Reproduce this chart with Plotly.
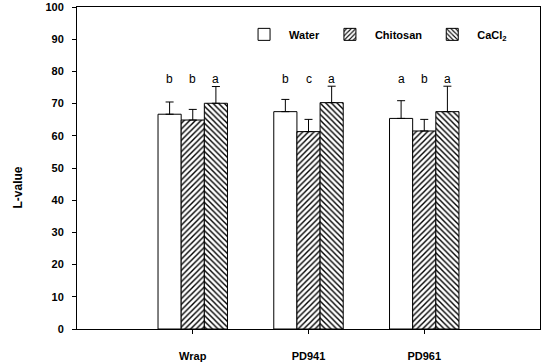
import plotly.graph_objects as go

categories = ["Wrap", "PD941", "PD961"]
series_names = ["Water", "Chitosan", "CaCl<sub>2</sub>"]
water = [66.7, 67.5, 65.4]
water_err = [3.8, 3.8, 5.5]
chitosan = [64.9, 61.3, 61.5]
chitosan_err = [3.3, 3.8, 3.6]
cacl2 = [70.1, 70.3, 67.5]
cacl2_err = [5.2, 5.1, 7.9]
letters_water = ["b", "b", "a"]
letters_chitosan = ["b", "c", "b"]
letters_cacl2 = ["a", "a", "a"]
y_ticks = list(range(0, 101, 10))

FONT = "Liberation Sans, Arial, sans-serif"

fig = go.Figure()

series = [
    (series_names[0], water, water_err, ""),
    (series_names[1], chitosan, chitosan_err, "/"),
    (series_names[2], cacl2, cacl2_err, "\\"),
]
for name, vals, errs, shape in series:
    marker = dict(color="white", line=dict(color="black", width=1))
    if shape:
        marker["pattern"] = dict(shape=shape, fgcolor="black", bgcolor="white",
                                 size=4, solidity=0.35, fillmode="replace")
    fig.add_trace(go.Bar(
        x=categories, y=vals, name="<b>%s</b>" % name, marker=marker,
        error_y=dict(type="data", array=errs, arrayminus=[0] * len(errs),
                     symmetric=False, color="black", thickness=1, width=4),
    ))

# significance letters
offsets = [-0.2, 0.0, 0.2]
for k, letters in enumerate([letters_water, letters_chitosan, letters_cacl2]):
    for i, letter in enumerate(letters):
        fig.add_annotation(x=i + offsets[k], y=77.5, xref="x", yref="y",
                           text=letter, showarrow=False,
                           font=dict(family=FONT, size=12, color="black"))

fig.add_annotation(xref="paper", yref="paper", x=-0.127, y=0.44,
                   xanchor="center", yanchor="middle",
                   text="<b>L-value</b>", textangle=-90, showarrow=False,
                   font=dict(family=FONT, size=12, color="black"))

fig.update_layout(
    width=546, height=363,
    margin=dict(l=77, r=6, t=7, b=34),
    plot_bgcolor="white", paper_bgcolor="white",
    barmode="group", bargap=0.4, bargroupgap=0,
    font=dict(family=FONT, size=11, color="black"),
    showlegend=True,
    legend=dict(orientation="h", x=0.35, y=0.915, xanchor="left", yanchor="middle",
                bgcolor="rgba(0,0,0,0)", font=dict(family=FONT, size=11, color="black"),
                itemwidth=40),
    xaxis=dict(range=[-1, 3], showline=True, linecolor="black", linewidth=1,
               mirror=True, ticks="outside", ticklen=4, tickcolor="black",
               tickfont=dict(family=FONT, size=11, color="black"),
               ticklabelstandoff=13, showgrid=False, zeroline=False, automargin=False,
               tickvals=categories, ticktext=["<b>%s</b>" % c for c in categories]),
    yaxis=dict(range=[0, 100], showline=True, linecolor="black", linewidth=1,
               mirror=True, ticks="outside", ticklen=4, tickcolor="black",
               tickvals=y_ticks, ticktext=["<b>%d</b>" % v for v in y_ticks],
               tickfont=dict(family=FONT, size=11, color="black"), automargin=False,
               ticklabelstandoff=6, showgrid=False, zeroline=False),
)

fig.write_html("out.html")
